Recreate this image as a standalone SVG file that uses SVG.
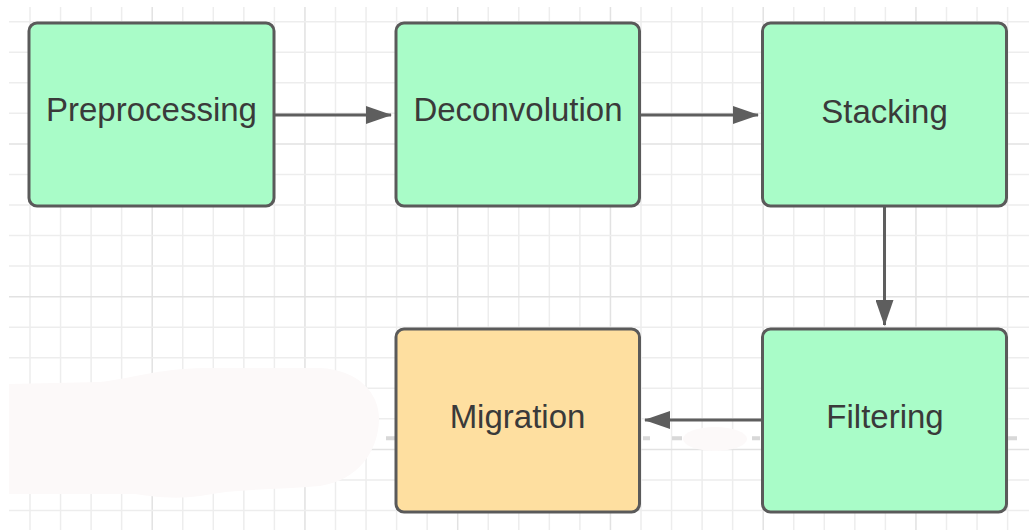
<svg xmlns="http://www.w3.org/2000/svg" width="1029" height="530" viewBox="0 0 1029 530">
<style>
.grid{stroke:#EDEDED;stroke-width:1.5;fill:none}
.gridd{stroke:#E2E2E2;stroke-width:1.5;fill:none}
.box{stroke:#5A5A5A;stroke-width:3}
.green{fill:#A9FCC8}
.orange{fill:#FEDFA0}
.lbl{font-family:"Liberation Sans",Arial,sans-serif;font-size:33px;fill:#3A3A3A;text-anchor:middle}
.conn{stroke:#5E5E5E;stroke-width:3;fill:none}
</style>
<defs>
<marker id="ah" markerWidth="26" markerHeight="18" refX="25" refY="9" orient="auto" markerUnits="userSpaceOnUse">
<path d="M0,0 L26,9 L0,18 Z" fill="#5E5E5E"/>
</marker>
</defs>
<rect width="1029" height="530" fill="#FFFFFF"/>
<g id="grid">
<path class="grid" d="M30,7V530M60.55,7V530M91.1,7V530M121.65,7V530M182.75,7V530M213.3,7V530M243.85,7V530M274.4,7V530M335.5,7V530M366.05,7V530M396.6,7V530M427.15,7V530M488.25,7V530M518.8,7V530M549.35,7V530M579.9,7V530M641,7V530M671.55,7V530M702.1,7V530M732.65,7V530M793.75,7V530M824.3,7V530M854.85,7V530M885.4,7V530M946.5,7V530M977.05,7V530M1007.6,7V530"/>
<path class="gridd" d="M152.2,7V530M304.95,7V530M457.7,7V530M610.45,7V530M763.2,7V530M915.95,7V530"/>
<path class="grid" d="M9,21.7H1029M9,52.25H1029M9,82.8H1029M9,113.35H1029M9,174.45H1029M9,205H1029M9,235.55H1029M9,266.1H1029M9,327.2H1029M9,357.75H1029M9,388.3H1029M9,418.85H1029M9,479.95H1029M9,510.5H1029"/>
<path class="gridd" d="M9,143.9H1029M9,296.65H1029M9,449.4H1029"/>
</g>
<path d="M386,438.3H395M643,438.3H650M672,438.3H682M752,438.3H760M1008,438.3H1017" stroke="#D8D8D8" stroke-width="4" fill="none"/>
<path d="M9,384 L100,382 C135,378 155,369 205,368 L320,368 C360,370 380,395 379,420 C378,452 358,480 320,486 C280,490 240,488 200,496 C172,500 150,496 135,494 L9,494 Z" fill="#FCF9F9"/>
<ellipse cx="715" cy="439" rx="32" ry="12" fill="#FCF9F9"/>
<g id="connectors">
<path class="conn" d="M275,115H391" marker-end="url(#ah)"/>
<path class="conn" d="M640,115H758" marker-end="url(#ah)"/>
<path class="conn" d="M884.5,207V325" marker-end="url(#ah)"/>
<path class="conn" d="M762,420H645" marker-end="url(#ah)"/>
</g>
<g id="preprocessing">
<rect class="box green" x="29" y="23" width="245" height="183" rx="8"/>
<text class="lbl" x="151.5" y="121">Preprocessing</text>
</g>
<g id="deconvolution">
<rect class="box green" x="396" y="23" width="243.5" height="183" rx="8"/>
<text class="lbl" x="518" y="121">Deconvolution</text>
</g>
<g id="stacking">
<rect class="box green" x="762.5" y="23" width="244" height="183" rx="8"/>
<text class="lbl" x="884.5" y="123">Stacking</text>
</g>
<g id="filtering">
<rect class="box green" x="762.5" y="329" width="244" height="183" rx="8"/>
<text class="lbl" x="885" y="428">Filtering</text>
</g>
<g id="migration">
<rect class="box orange" x="396" y="329" width="243.5" height="183" rx="8"/>
<text class="lbl" x="517.5" y="428">Migration</text>
</g>
</svg>
